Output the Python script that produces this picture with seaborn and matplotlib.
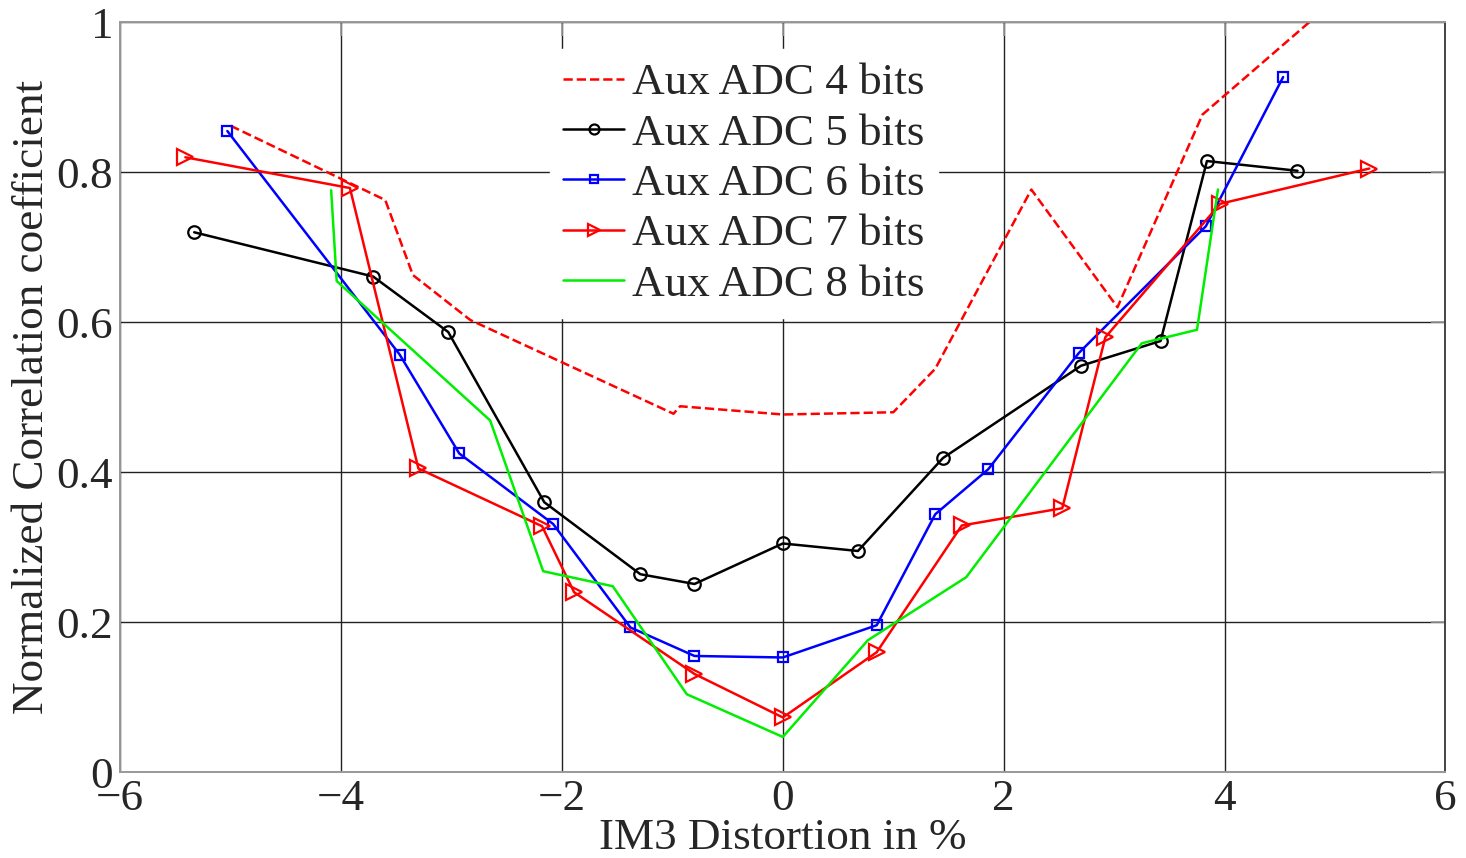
import matplotlib
matplotlib.use("Agg")
import matplotlib.pyplot as plt
import seaborn as sns
import pandas as pd

# ---- data ----
x4 = [-5.00, -3.60, -3.35, -2.83, -0.99, -0.93, 0.00, 1.00, 1.38, 2.25, 3.03, 3.80, 4.75, 5.20]
y4 = [0.862, 0.763, 0.663, 0.603, 0.478, 0.488, 0.477, 0.480, 0.538, 0.777, 0.620, 0.877, 0.998, 1.055]

x5 = [-5.33, -3.71, -3.03, -2.16, -1.29, -0.80, 0.00, 0.68, 1.45, 2.70, 3.42, 3.84, 4.66]
y5 = [0.720, 0.661, 0.587, 0.360, 0.264, 0.251, 0.305, 0.295, 0.419, 0.542, 0.575, 0.815, 0.802]

x6 = [-5.03, -3.47, -2.93, -2.08, -1.38, -0.80, 0.00, 0.85, 1.38, 1.86, 2.68, 3.83, 4.53]
y6 = [0.855, 0.557, 0.425, 0.331, 0.193, 0.155, 0.153, 0.196, 0.344, 0.404, 0.559, 0.728, 0.927]

x7 = [-5.41, -3.92, -3.30, -2.18, -1.89, -0.80, 0.00, 0.85, 1.62, 2.53, 2.92, 3.96, 5.31]
y7 = [0.820, 0.779, 0.405, 0.328, 0.240, 0.131, 0.073, 0.160, 0.329, 0.352, 0.580, 0.758, 0.805]

x8 = [-4.09, -4.04, -2.65, -2.17, -1.54, -0.87, 0.00, 0.77, 1.66, 3.25, 3.75, 3.94]
y8 = [0.776, 0.655, 0.469, 0.268, 0.248, 0.104, 0.047, 0.176, 0.260, 0.572, 0.590, 0.777]

labels = ["Aux ADC 4 bits", "Aux ADC 5 bits", "Aux ADC 6 bits", "Aux ADC 7 bits", "Aux ADC 8 bits"]
xticks = [-6, -4, -2, 0, 2, 4, 6]
yticks = [0, 0.2, 0.4, 0.6, 0.8, 1]
ytick_labels = ["0", "0.2", "0.4", "0.6", "0.8", "1"]
xlabel = "IM3 Distortion in %"
ylabel = "Normalized Correlation coefficient"

# ---- styling ----
sns.set_style("white")
plt.rcParams["font.family"] = ["Liberation Serif", "DejaVu Serif"]
plt.rcParams["axes.unicode_minus"] = True

FS = 32.5

fig = plt.figure(figsize=(14.66, 8.58), dpi=100)
ax = fig.add_axes([0.082, 0.100, 0.904, 0.874])

styles = [
    dict(color="#ff0000", linestyle="--", marker=None),
    dict(color="#000000", linestyle="-", marker="o", markersize=9),
    dict(color="#0000ff", linestyle="-", marker="s", markersize=7),
    dict(color="#ff0000", linestyle="-", marker=">", markersize=11),
    dict(color="#00ee00", linestyle="-", marker=None),
]
series = [(x4, y4), (x5, y5), (x6, y6), (x7, y7), (x8, y8)]

for (xs, ys), lab, st in zip(series, labels, styles):
    df = pd.DataFrame({"x": xs, "y": ys})
    kw = dict(linewidth=1.8, color=st["color"], linestyle=st["linestyle"])
    if st["marker"] is not None:
        kw.update(marker=st["marker"], markersize=st["markersize"],
                  markerfacecolor="none", markeredgecolor=st["color"],
                  markeredgewidth=1.6)
    sns.lineplot(data=df, x="x", y="y", ax=ax, sort=False, estimator=None,
                 label=lab, **kw)

ax.set_xlim(-6, 6)
ax.set_ylim(0, 1)
ax.set_xticks(xticks)
ax.set_yticks(yticks)
ax.set_yticklabels(ytick_labels)
ax.grid(True, color="#222222", linewidth=1.0)
ax.set_axisbelow(True)

for sp in ax.spines.values():
    sp.set_color("#999999")
    sp.set_linewidth(1.4)
ax.spines["right"].set_color("#444444")

ax.tick_params(axis="both", direction="in", length=10, width=1.2, color="#999999",
               labelsize=FS, top=True, right=True)
ax.tick_params(axis="x", pad=5)
ax.tick_params(axis="y", pad=5)
ax.set_xlabel(xlabel, fontsize=FS, labelpad=-1)
ax.set_ylabel(ylabel, fontsize=FS, labelpad=3)

leg = ax.legend(loc="upper left", bbox_to_anchor=(0.324, 0.964), fontsize=FS,
                frameon=True, facecolor="white", edgecolor="white", framealpha=1,
                handlelength=1.35, handletextpad=0.18, labelspacing=0.215,
                borderpad=0.3, borderaxespad=0, numpoints=1, fancybox=False)
for h in leg.legend_handles:
    h.set_linewidth(1.8)
    if h.get_marker() not in (None, "None", ""):
        h.set_markersize(h.get_markersize() * 0.8)

fig.savefig("out.png", dpi=100)
